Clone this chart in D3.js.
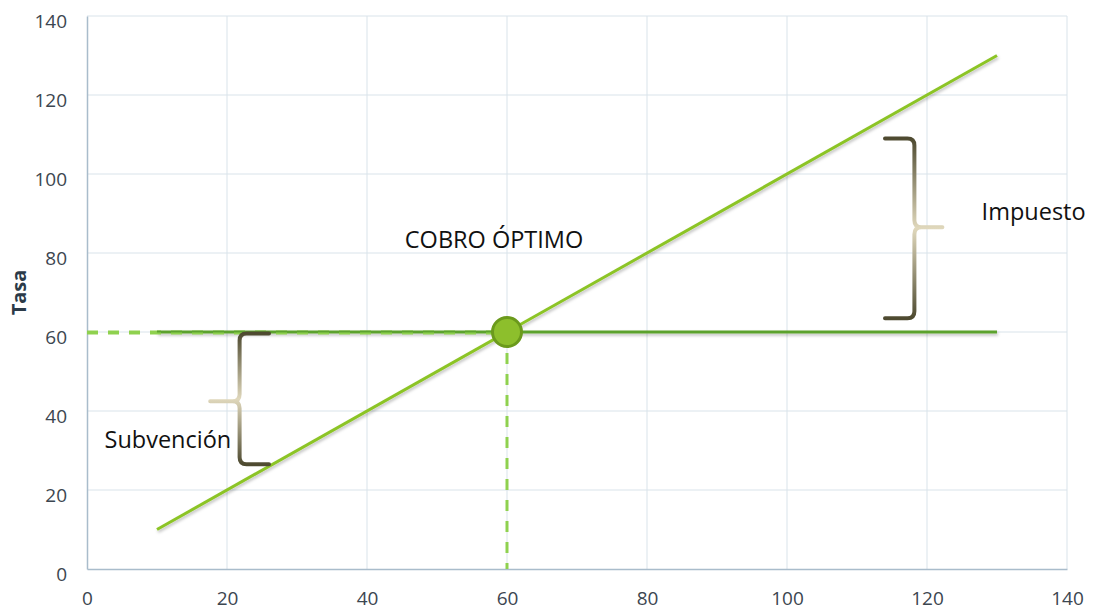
<!DOCTYPE html>
<html>
<head>
<meta charset="utf-8">
<script src="https://cdn.jsdelivr.net/npm/d3@7"></script>
<style>
  html, body { margin: 0; padding: 0; background: #fff; }
  svg { display: block; }
</style>
</head>
<body>
<svg id="chart" width="1096" height="611"></svg>
<script>
// Tick values for both axes
const xTicks = [0, 20, 40, 60, 80, 100, 120, 140];
const yTicks = [0, 20, 40, 60, 80, 100, 120, 140];

// Rising cost line and flat rate line
const costX = [10, 130];
const costY = [10, 130];
const rateX = [10, 130];
const rateY = [60, 60];

// Optimum charge point
const optimum = [60, 60];

// Braces: x of the spine, x of the tip, x of the arm ends, top, middle, bottom
const braceSub = { spine: 21.8, tipX: 17.6, endX: 26, top: 59.6, mid: 42.5, bottom: 26.5 };
const braceTax = { spine: 118.2, tipX: 122.2, endX: 114, top: 109, mid: 86.5, bottom: 63.5 };

// Annotation texts
const labels = [
  { text: "COBRO ÓPTIMO", x: 45.4, y: 81.3 },
  { text: "Impuesto", x: 127.8, y: 88.3 },
  { text: "Subvención", x: 2.5, y: 30.7 }
];

const FONT = "'Open Sans', 'Noto Sans', sans-serif";

const svg = d3.select("#chart");
const margin = { left: 87, right: 29, top: 16, bottom: 42 };
const W = 1096, H = 611;

const x = d3.scaleLinear().domain([0, 140]).range([margin.left, W - margin.right]);
const y = d3.scaleLinear().domain([0, 140]).range([H - margin.bottom, margin.top]);

const defs = svg.append("defs");
const shadow = defs.append("filter").attr("id", "shadow")
  .attr("filterUnits", "userSpaceOnUse")
  .attr("x", 0).attr("y", 0).attr("width", W).attr("height", H);
shadow.append("feDropShadow").attr("dx", 1).attr("dy", 2).attr("stdDeviation", 1.5)
  .attr("flood-color", "#000").attr("flood-opacity", 0.25);

function braceGradient(id) {
  const g = defs.append("linearGradient").attr("id", id)
    .attr("x1", 0).attr("y1", 0).attr("x2", 0).attr("y2", 1);
  g.append("stop").attr("offset", "0%").attr("stop-color", "#4e4a30");
  g.append("stop").attr("offset", "50%").attr("stop-color", "#e0d8bc");
  g.append("stop").attr("offset", "100%").attr("stop-color", "#4e4a30");
}
braceGradient("braceGradA");
braceGradient("braceGradB");

// Grid
const grid = svg.append("g");
grid.selectAll("line.gx").data(xTicks.filter(d => d > 0)).join("line")
  .attr("x1", d => x(d)).attr("x2", d => x(d))
  .attr("y1", y(0)).attr("y2", y(140))
  .attr("stroke", "#d9e3ea").attr("stroke-width", 1);
grid.selectAll("line.gy").data(yTicks.filter(d => d > 0)).join("line")
  .attr("y1", d => y(d)).attr("y2", d => y(d))
  .attr("x1", x(0)).attr("x2", x(140))
  .attr("stroke", "#d9e3ea").attr("stroke-width", 1);

// Axes
const xAxis = svg.append("g").attr("transform", `translate(0,${y(0)})`)
  .call(d3.axisBottom(x).tickValues(xTicks).tickSize(0).tickPadding(23));
const yAxis = svg.append("g").attr("transform", `translate(${x(0)},0)`)
  .call(d3.axisLeft(y).tickValues(yTicks).tickSize(0).tickPadding(20));
[xAxis, yAxis].forEach(a => {
  a.select(".domain").attr("stroke", "#a9bccb").attr("stroke-width", 1.5);
  a.selectAll("text").attr("font-family", FONT)
    .attr("font-size", 19).attr("fill", "#3c4650");
});
yAxis.selectAll("text").attr("dy", "0.62em");

svg.append("text")
  .attr("transform", `translate(26,${y(70)}) rotate(-90)`)
  .attr("text-anchor", "middle")
  .attr("font-family", FONT)
  .attr("font-weight", "bold").attr("font-size", 20).attr("fill", "#2b3a48")
  .text("Tasa");

// Dashed guides to the optimum
svg.append("line")
  .attr("x1", x(0)).attr("x2", x(optimum[0]))
  .attr("y1", y(optimum[1])).attr("y2", y(optimum[1]))
  .attr("stroke", "#8fd14f").attr("stroke-width", 3).attr("stroke-dasharray", "11 10");
svg.append("line")
  .attr("x1", x(optimum[0])).attr("x2", x(optimum[0]))
  .attr("y1", y(optimum[1])).attr("y2", y(0))
  .attr("stroke", "#8fd14f").attr("stroke-width", 3).attr("stroke-dasharray", "11 10");

// Flat rate line
svg.append("line")
  .attr("x1", x(rateX[0])).attr("x2", x(rateX[1]))
  .attr("y1", y(rateY[0])).attr("y2", y(rateY[1]))
  .attr("stroke", "#5ca22e").attr("stroke-width", 3).attr("filter", "url(#shadow)");

// Dashed guide peeking out just under the flat line
svg.append("line")
  .attr("x1", x(0)).attr("x2", x(optimum[0]))
  .attr("y1", y(optimum[1]) + 1.5).attr("y2", y(optimum[1]) + 1.5)
  .attr("stroke", "#8fd14f").attr("stroke-width", 2).attr("stroke-dasharray", "11 10");

// Rising line
svg.append("line")
  .attr("x1", x(costX[0])).attr("x2", x(costX[1]))
  .attr("y1", y(costY[0])).attr("y2", y(costY[1]))
  .attr("stroke", "#8cc425").attr("stroke-width", 3).attr("filter", "url(#shadow)");

// Optimum point
svg.append("circle")
  .attr("cx", x(optimum[0])).attr("cy", y(optimum[1])).attr("r", 14.5)
  .attr("fill", "#8dbf2c").attr("stroke", "#6b9a1c").attr("stroke-width", 3);

// Braces
function bracePath(b) {
  const sx = x(b.spine), tx = x(b.tipX), ex = x(b.endX);
  const yt = y(b.top), ym = y(b.mid), yb = y(b.bottom);
  const dirEnd = Math.sign(ex - sx), dirTip = Math.sign(tx - sx);
  const r = 7;
  return [
    `M${ex},${yt}`,
    `L${sx + dirEnd * r},${yt}`,
    `Q${sx},${yt} ${sx},${yt + r}`,
    `L${sx},${ym - r}`,
    `Q${sx},${ym} ${sx + dirTip * r},${ym}`,
    `L${tx},${ym}`,
    `M${sx + dirTip * r},${ym}`,
    `Q${sx},${ym} ${sx},${ym + r}`,
    `L${sx},${yb - r}`,
    `Q${sx},${yb} ${sx + dirEnd * r},${yb}`,
    `L${ex},${yb}`
  ].join(" ");
}
svg.append("path").attr("d", bracePath(braceSub))
  .attr("fill", "none").attr("stroke", "url(#braceGradA)")
  .attr("stroke-width", 4).attr("stroke-linecap", "round");
svg.append("path").attr("d", bracePath(braceTax))
  .attr("fill", "none").attr("stroke", "url(#braceGradB)")
  .attr("stroke-width", 4).attr("stroke-linecap", "round");

// Labels
svg.selectAll("text.lbl").data(labels).join("text")
  .attr("class", "lbl")
  .attr("x", d => x(d.x)).attr("y", d => y(d.y))
  .attr("font-family", FONT)
  .attr("font-size", 23.5).attr("fill", "#111")
  .text(d => d.text);
</script>
</body>
</html>
